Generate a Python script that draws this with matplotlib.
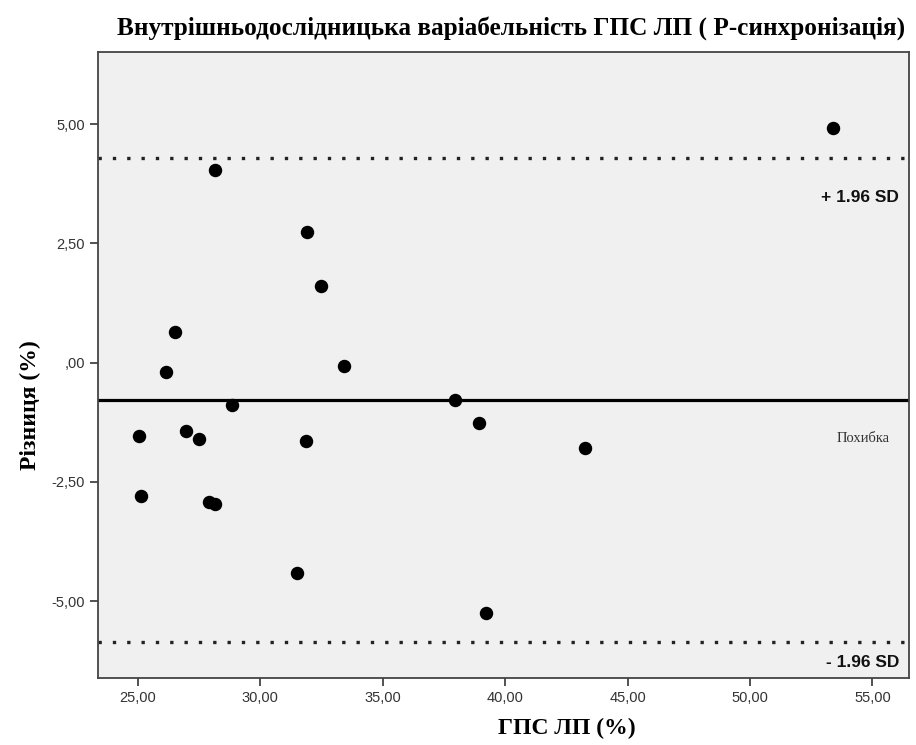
import matplotlib
matplotlib.use("Agg")
import matplotlib.pyplot as plt
from matplotlib.ticker import FuncFormatter

# Дані
gps_lp = [53.39, 28.13, 31.89, 32.47, 26.50, 26.13, 33.41, 28.83, 37.94, 25.03,
          26.95, 27.48, 31.85, 38.92, 43.26, 25.11, 27.89, 28.13, 31.48, 39.21]
riznytsia = [4.92, 4.04, 2.74, 1.60, 0.64, -0.20, -0.07, -0.89, -0.79, -1.54,
             -1.44, -1.60, -1.65, -1.27, -1.79, -2.80, -2.92, -2.97, -4.41, -5.25]
mean_diff = -0.786
upper_loa = 4.287
lower_loa = -5.86

x_ticks = [25, 30, 35, 40, 45, 50, 55]
y_ticks = [-5, -2.5, 0, 2.5, 5]


def spss_fmt(v, pos):
    s = f"{v:.2f}".replace(".", ",")
    if s.startswith("0,"):
        s = s[1:]
    if s.startswith("-0,"):
        s = "-" + s[2:]
    return s


fig = plt.figure(figsize=(9.16, 7.45), dpi=100)
ax = fig.add_axes([0.107, 0.090, 0.885, 0.840])
ax.set_facecolor("#f0f0f0")

# Лінії середнього та меж
ax.axhline(mean_diff, color="black", lw=2.3, zorder=2)
ax.axhline(upper_loa, color="#222222", lw=2.4, linestyle=(0, (1, 3.3)), zorder=2)
ax.axhline(lower_loa, color="#222222", lw=2.4, linestyle=(0, (1, 3.3)), zorder=2)

ax.scatter(gps_lp, riznytsia, s=75, color="black", zorder=3)

ax.set_xlim(23.37, 56.48)
ax.set_ylim(-6.61, 6.51)
ax.set_xticks(x_ticks)
ax.set_yticks(y_ticks)
ax.xaxis.set_major_formatter(FuncFormatter(spss_fmt))
ax.yaxis.set_major_formatter(FuncFormatter(spss_fmt))

for side in ["top", "right", "left", "bottom"]:
    ax.spines[side].set_color("#444444")
    ax.spines[side].set_linewidth(1.3)
ax.tick_params(direction="out", length=6, width=1.3, color="#444444",
               labelsize=10.5, labelcolor="#333333")
for lab in ax.get_xticklabels() + ax.get_yticklabels():
    lab.set_family("Liberation Sans")

# Підписи ліній
ax.text(0.988, 0.768, "+ 1.96 SD", transform=ax.transAxes, ha="right", va="center",
        fontsize=12.5, fontweight="bold", family="Liberation Sans", color="#111111")
ax.text(0.988, 0.024, "- 1.96 SD", transform=ax.transAxes, ha="right", va="center",
        fontsize=12.5, fontweight="bold", family="Liberation Sans", color="#111111")
ax.text(0.977, 0.383, "Похибка", transform=ax.transAxes, ha="right", va="center",
        fontsize=10.5, family="Liberation Serif", color="#333333")

# Заголовок і підписи осей
fig.text(0.558, 0.962, "Внутрішньодослідницька варіабельність ГПС ЛП ( P-синхронізація)",
         ha="center", va="center", fontsize=18.2, fontweight="bold", family="Liberation Serif")
fig.text(0.619, 0.022, "ГПС ЛП (%)", ha="center", va="center",
         fontsize=17, fontweight="bold", family="Liberation Serif")
fig.text(0.033, 0.456, "Різниця (%)", ha="center", va="center", rotation=90,
         fontsize=17, fontweight="bold", family="Liberation Serif")

fig.savefig("out.png", dpi=100, facecolor="white")
